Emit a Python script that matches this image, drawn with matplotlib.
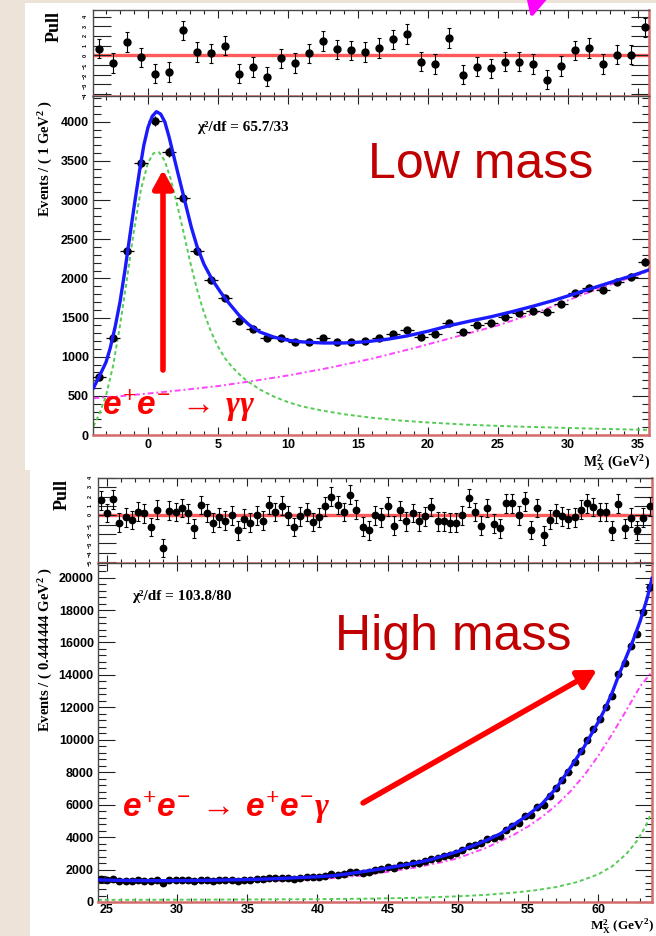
import numpy as np
import matplotlib.pyplot as plt
from matplotlib.patches import Rectangle
from matplotlib.ticker import MultipleLocator

plt.rcParams['font.family'] = ['Liberation Sans', 'DejaVu Sans']
plt.rcParams['font.weight'] = 'bold'
plt.rcParams['mathtext.fontset'] = 'custom'
plt.rcParams['mathtext.rm'] = 'Liberation Serif:bold'
plt.rcParams['mathtext.bf'] = 'Liberation Serif:bold'
plt.rcParams['mathtext.it'] = 'Liberation Sans:bold:italic'
plt.rcParams['mathtext.sf'] = 'Liberation Serif:italic'

# ---- low mass region: 1 GeV^2 bins from -4 to 36
lo_x = np.arange(-3.5, 36.0, 1.0)
lo_counts = [740, 1240, 2350, 3475, 4010, 3615, 3030, 2350, 1980, 1750,
             1460, 1355, 1240, 1240, 1190, 1190, 1240, 1190, 1190, 1200,
             1240, 1290, 1340, 1255, 1290, 1430, 1315, 1405, 1430, 1510,
             1555, 1585, 1575, 1675, 1815, 1880, 1855, 1955, 2020, 2210]
lo_pull = [0.7, -0.8, 1.4, -0.2, -1.9, -1.7, 2.6, 0.35, 0.2, 1.0,
           -1.9, -1.2, -2.2, -0.3, -0.8, 0.2, 1.5, 0.63, 0.53, 0.35,
           0.77, 1.65, 2.2, -0.63, -0.88, 1.8, -2.0, -1.16, -1.33, -0.63,
           -0.63, -0.88, -2.5, -1.1, 0.53, 0.77, -0.88, 0.07, 0.07, 2.9]

lo_fit_x = [-3.9, -3.45, -3.0, -2.7, -2.35, -2.0, -1.65, -1.3, -0.95, -0.6,
            -0.3, 0.0, 0.3, 0.6, 0.9, 1.2, 1.5, 1.8, 2.1, 2.4,
            2.75, 3.1, 3.5, 4.0, 4.6, 5.2, 5.8, 6.5, 7.2, 8.0,
            9.0, 10.0, 11.0, 12.5, 14.0, 15.5, 17.0, 18.5, 20.0, 21.5,
            23.0, 24.5, 26.0, 27.5, 29.0, 30.5, 32.0, 33.5, 35.0, 35.8]
lo_fit_y = [600, 760, 930, 1110, 1380, 1700, 2100, 2540, 2970, 3380,
            3700, 3930, 4070, 4130, 4100, 4000, 3810, 3590, 3370, 3155,
            2900, 2650, 2410, 2180, 1980, 1820, 1680, 1530, 1410, 1315,
            1250, 1210, 1190, 1175, 1175, 1190, 1220, 1265, 1325, 1395,
            1455, 1510, 1575, 1645, 1720, 1805, 1890, 1975, 2060, 2110]

lo_sig_x = [-3.9, -3.5, -3.0, -2.5, -2.0, -1.5, -1.0, -0.5, 0.0, 0.4,
            0.8, 1.2, 1.6, 2.0, 2.5, 3.0, 3.5, 4.0, 4.5, 5.0,
            5.5, 6.0, 6.5, 7.0, 8.0, 9.0, 10.0, 11.0, 12.5, 14.0,
            16.0, 18.0, 20.0, 23.0, 26.0, 29.0, 32.0, 35.8]
lo_sig_y = [110, 260, 500, 880, 1400, 2000, 2620, 3140, 3480, 3600,
            3610, 3500, 3280, 3000, 2620, 2220, 1860, 1560, 1320, 1130,
            980, 870, 780, 700, 580, 490, 420, 365, 310, 265,
            220, 185, 160, 130, 110, 95, 80, 65]

lo_bkg_x = [-3.9, -2.0, 0.0, 2.5, 5.0, 7.5, 10.0, 13.0, 16.0, 19.0,
            22.0, 25.0, 28.0, 31.0, 33.5, 35.8]
lo_bkg_y = [470, 495, 530, 575, 625, 690, 760, 860, 975, 1110,
            1255, 1400, 1580, 1790, 1950, 2095]

# ---- high mass region: 0.444444 GeV^2 bins
hi_x = 24.5556 + 0.444444 * np.arange(89)
hi_counts = [1420, 1360, 1400, 1305, 1323, 1307, 1335, 1325, 1271, 1337,
             1188, 1334, 1331, 1349, 1330, 1276, 1371, 1345, 1313, 1341,
             1335, 1362, 1311, 1366, 1359, 1400, 1391, 1467, 1452, 1494,
             1470, 1439, 1501, 1538, 1516, 1558, 1628, 1698, 1695, 1714,
             1847, 1836, 1818, 1860, 1985, 2031, 2144, 2114, 2256, 2269,
             2382, 2408, 2525, 2666, 2696, 2815, 2916, 3036, 3220, 3477,
             3541, 3613, 3880, 3953, 4099, 4466, 4698, 4890, 5328, 5385,
             5841, 5972, 6524, 7017, 7491, 8019, 8601, 9308, 10009, 10642,
             11287, 12008, 12718, 14067, 14729, 15769, 16543, 17867, 19432]
hi_pull = [1.6, 0.25, 1.7, -0.8, -0.2, -0.5, 0.4, 0.2, -1.25, 0.6,
           -3.5, 0.5, 0.35, 0.8, 0.2, -1.4, 1.1, 0.25, -0.8, -0.2,
           -0.55, 0.0, -1.6, -0.35, -0.8, 0.0, -0.55, 1.1, 0.35, 1.05,
           0.0, -1.25, -0.1, 0.35, -0.7, -0.2, 0.95, 2.0, 1.1, 0.35,
           2.2, 0.6, -1.2, -1.6, 0.0, -0.2, 0.95, -1.1, 0.55, -0.65,
           0.25, -0.65, -0.1, 0.9, -0.65, -0.65, -0.8, -0.8, 0.0, 1.85,
           0.35, -1.1, 0.8, -0.9, -1.4, 1.3, 1.3, 0.0, 1.5, -1.55,
           0.8, -2.15, -0.45, 0.2, -0.1, -0.35, -0.2, 0.6, 1.3, 0.9,
           0.35, 0.35, -1.6, 1.25, -1.4, -0.25, -1.6, -0.25, 0.95]

hi_fit_x = [24.36, 25, 26, 27, 28, 29, 30, 31, 32, 33,
            34, 35, 36, 37, 38, 39, 40, 41, 42, 43,
            44, 45, 46, 47, 48, 49, 50, 51, 52, 53,
            54, 55, 56, 57, 58, 59, 60, 60.5, 61, 61.5,
            62, 62.5, 63, 63.5, 63.84]
hi_fit_y = [1368, 1350, 1333, 1322, 1316, 1315, 1319, 1325, 1335, 1348,
            1364, 1384, 1409, 1439, 1475, 1515, 1555, 1615, 1715, 1840,
            1970, 2100, 2250, 2405, 2595, 2850, 3110, 3445, 3790, 4190,
            4775, 5360, 6050, 7000, 8250, 9560, 11075, 11920, 12900, 14050,
            15100, 16150, 17330, 18740, 19950]

hi_sig_x = [24.36, 30, 35, 40, 44, 47, 50, 52, 54, 55.5,
            57, 58.5, 60, 61, 62, 62.8, 63.4, 63.84]
hi_sig_y = [130, 140, 155, 175, 210, 260, 350, 440, 580, 720,
            920, 1230, 1700, 2200, 2950, 3800, 4700, 5600]

hi_bkg_x = [24.36, 30, 35, 40, 43, 45, 47, 49, 50, 52,
            54, 55, 56, 57, 58, 59, 60, 61, 62, 63, 63.84]
hi_bkg_y = [1240, 1220, 1240, 1390, 1620, 1860, 2130, 2480, 2700, 3330,
            4150, 4650, 5250, 5950, 6800, 7800, 9000, 10350, 11800, 13300, 14200]

W, H = 656, 936
FRAME_DARK = '#4a4a4a'
FRAME_RED = '#d46a6a'


def box(x0, y0, x1, y1):
    return [x0 / W, 1 - y1 / H, (x1 - x0) / W, (y1 - y0) / H]


def style_frame(ax, ymaj, ymin, ylen):
    for side in ['top', 'left']:
        ax.spines[side].set_color(FRAME_DARK)
        ax.spines[side].set_linewidth(1.0)
    for side in ['bottom', 'right']:
        ax.spines[side].set_color(FRAME_RED)
        ax.spines[side].set_linewidth(1.8)
    ax.xaxis.set_major_locator(MultipleLocator(5))
    ax.xaxis.set_minor_locator(MultipleLocator(1))
    ax.yaxis.set_major_locator(MultipleLocator(ymaj))
    if ymin:
        ax.yaxis.set_minor_locator(MultipleLocator(ymin))
    ax.tick_params(which='both', direction='in', top=True, right=True,
                   color='#222222', width=0.8)
    ax.tick_params(axis='x', which='major', length=5.5)
    ax.tick_params(axis='x', which='minor', length=2.8)
    ax.tick_params(axis='y', which='major', length=ylen)
    ax.tick_params(axis='y', which='minor', length=ylen * 0.45)


fig = plt.figure(figsize=(W / 100, H / 100), dpi=100)
fig.patch.set_facecolor('#ede3d9')
fig.add_artist(Rectangle((25 / W, 1 - 470 / H), (W - 25) / W, 467 / H,
                         transform=fig.transFigure, facecolor='white',
                         edgecolor='none', zorder=-5))
fig.add_artist(Rectangle((30 / W, 0), (W - 30) / W, 466 / H,
                         transform=fig.transFigure, facecolor='white',
                         edgecolor='none', zorder=-5))

panels = [
    dict(pull=box(93, 10, 649, 96), main=box(93, 96, 649, 435),
         xlim=(-3.93, 35.79), ylim=(0, 4330), pylim=(-4.2, 4.7),
         ymaj=500, ymin=100, x=lo_x, n=lo_counts, xerr=0.5, pull_v=lo_pull,
         fit=(lo_fit_x, lo_fit_y), sig=(lo_sig_x, lo_sig_y),
         bkg=(lo_bkg_x, lo_bkg_y), ms=5, xpad=3),
    dict(pull=box(98, 478, 652, 563), main=box(98, 563, 652, 902),
         xlim=(24.36, 63.84), ylim=(0, 20900), pylim=(-5.1, 4.0),
         ymaj=2000, ymin=400, x=hi_x, n=hi_counts, xerr=0.2222, pull_v=hi_pull,
         fit=(hi_fit_x, hi_fit_y), sig=(hi_sig_x, hi_sig_y),
         bkg=(hi_bkg_x, hi_bkg_y), ms=4.6, xpad=1.5),
]

axes = []
for p in panels:
    axp = fig.add_axes(p['pull'])
    axm = fig.add_axes(p['main'])
    n = np.array(p['n'], dtype=float)

    # pull panel
    axp.axhline(0, color='#ff5a5a', lw=2.4, zorder=1)
    axp.errorbar(p['x'], p['pull_v'], yerr=1.0, fmt='o', color='black',
                 ms=p['ms'], elinewidth=0.8, capsize=1.5, capthick=0.8, zorder=3)
    axp.set_xlim(*p['xlim'])
    axp.set_ylim(*p['pylim'])
    style_frame(axp, 1, None, 13)
    axp.tick_params(axis='x', labelbottom=False)
    axp.tick_params(axis='y', labelsize=4, labelrotation=90, pad=4)

    # main panel
    axm.plot(*p['bkg'], color='#ff44ff', lw=1.4, ls=(0, (3, 1.5, 1, 1.5)), zorder=2)
    axm.plot(*p['sig'], color='#55cc55', lw=1.4, ls=(0, (2, 1.5)), zorder=2)
    axm.errorbar(p['x'], n, xerr=p['xerr'], yerr=np.sqrt(n), fmt='o',
                 color='black', ms=p['ms'], elinewidth=0.9, capsize=0, zorder=3)
    axm.plot(*p['fit'], color='#1a1aff', lw=2.4, zorder=4)
    axm.set_xlim(*p['xlim'])
    axm.set_ylim(*p['ylim'])
    style_frame(axm, p['ymaj'], p['ymin'], 12)
    axm.tick_params(axis='y', labelsize=9, pad=3)
    axm.tick_params(axis='x', labelsize=9, pad=p['xpad'])
    axes.append(axm)

ax_lo, ax_hi = axes

# axis titles
serif = dict(family='Liberation Serif', weight='bold')
fig.text(45 / W, 1 - 100 / H, 'Events / ( 1 GeV$^2$ )', rotation=90,
         ha='center', va='top', size=10.5, **serif)
fig.text(45 / W, 1 - 567 / H, 'Events / ( 0.444444 GeV$^2$ )', rotation=90,
         ha='center', va='top', size=10.5, **serif)
fig.text(54 / W, 1 - 27 / H, 'Pull', rotation=90, ha='center', va='center',
         size=13, **serif)
fig.text(62 / W, 1 - 494 / H, 'Pull', rotation=90, ha='center', va='center',
         size=13, **serif)
fig.text(650 / W, 1 - 452 / H, r'$\mathrm{M}_\mathrm{X}^2$ (GeV$^2$)',
         ha='right', va='top', size=10, **serif)
fig.text(654 / W, 1 - 917 / H, r'$\mathrm{M}_\mathrm{X}^2$ (GeV$^2$)',
         ha='right', va='top', size=9.5, **serif)

# fit quality
ax_lo.text(3.5, 3885, 'χ²/df = 65.7/33', size=11, **serif)
ax_hi.text(26.78, 18640, 'χ²/df = 103.8/80', size=11, **serif)

# region labels
ax_lo.text(15.71, 3284, 'Low mass', size=36, color='#c00000',
           weight='normal', va='baseline')
ax_hi.text(41.25, 15560, 'High mass', size=36, color='#c00000',
           weight='normal', va='baseline')

# process labels with arrows
ax_lo.text(-3.3, 255, r'$e^{+}e^{-}\,\rightarrow\,\mathsf{\gamma\gamma}$', color='red',
           size=24, va='baseline', clip_on=False)
ax_hi.text(26.07, 5250, r'$e^{+}e^{-}\,\rightarrow\,e^{+}e^{-}\mathsf{\gamma}$', color='red',
           size=24, va='baseline')
arrow = dict(arrowstyle='-|>,head_width=0.3,head_length=0.55', lw=4,
             color='red', mutation_scale=20, shrinkA=0, shrinkB=0)
ax_lo.annotate('', xy=(1.07, 3387), xytext=(1.07, 830), arrowprops=arrow)
ax_hi.annotate('', xy=(59.93, 14320), xytext=(43.25, 6110), arrowprops=arrow)

# magenta pointer coming in from above
fig.add_artist(plt.Annotation('', xy=(531, H - 18), xytext=(538, H + 10),
                              xycoords='figure pixels', textcoords='figure pixels',
                              arrowprops=dict(arrowstyle='-|>,head_width=0.35,head_length=0.7',
                                              lw=3, color='#ff00ff', mutation_scale=18,
                                              shrinkA=0, shrinkB=0)))

fig.savefig('out.png', dpi=100)
